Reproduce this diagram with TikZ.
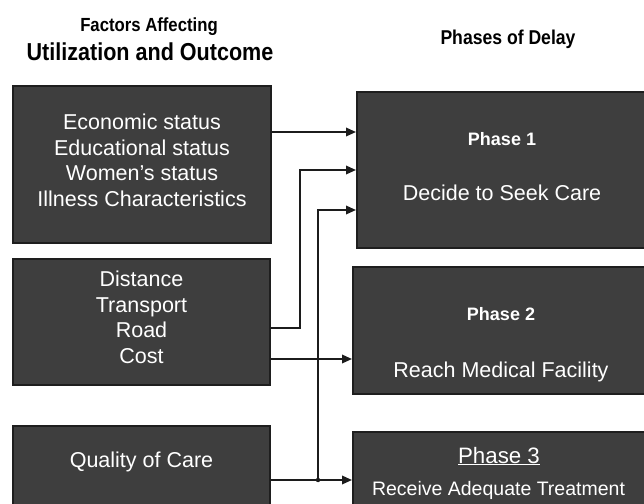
\documentclass[tikz,border=0pt]{standalone}
\usepackage{fontspec}
\setmainfont{Liberation Sans}
\newfontfamily\headfont[FakeStretch=0.88]{Liberation Sans}
\usetikzlibrary{arrows.meta}
\definecolor{boxfill}{HTML}{3E3E3E}
\definecolor{boxline}{HTML}{1E1E1E}
\definecolor{wire}{HTML}{1C1C1C}
\tikzset{
  box/.style={draw=boxline, fill=boxfill, line width=2pt, inner sep=0pt},
  bodytext/.style={text=white, font=\fontsize{21.5}{25.6}\selectfont, align=center, inner sep=0pt},
  phasehead/.style={text=white, font=\fontsize{18}{20}\selectfont\bfseries, inner sep=0pt, anchor=base},
  phasebody/.style={text=white, font=\fontsize{21.5}{24}\selectfont, inner sep=0pt, anchor=base},
  title/.style={text=black, inner sep=0pt, anchor=base},
  arr/.style={draw=wire, line width=1.8pt, -{Triangle[length=10pt,width=8.5pt]}},
  wireline/.style={draw=wire, line width=1.8pt}
}
\begin{document}
\begin{tikzpicture}[x=1pt,y=-1pt]
\useasboundingbox (0,0) rectangle (644,503);
\clip (0,0) rectangle (644,503);
\fill[white] (0,0) rectangle (644,503);

% titles
\node[title, font=\headfont\fontsize{19}{21}\selectfont\bfseries] (t1) at (149,32) {Factors Affecting};
\node[title, font=\headfont\fontsize{24.5}{26}\selectfont\bfseries] (t2) at (150,60) {Utilization and Outcome};
\node[title, font=\headfont\fontsize{20}{22}\selectfont\bfseries] (t3) at (508,45) {Phases of Delay};

% left boxes
\node[box, minimum width=258pt, minimum height=157pt] (b1) at (142,164.5) {};
\node[box, minimum width=257pt, minimum height=126pt] (b2) at (141.5,322) {};
\node[box, minimum width=257pt, minimum height=90pt] (b3) at (141.5,471) {};

% phase boxes
\node[box, minimum width=291pt, minimum height=156pt] (p1) at (502.5,170) {};
\node[box, minimum width=295pt, minimum height=127pt] (p2) at (500.5,330.5) {};
\node[box, minimum width=295pt, minimum height=86pt] (p3) at (500.5,475) {};

% texts in left boxes
\node[bodytext] (b1t) at (142,160.5) {Economic status\\Educational status\\Women's status\\Illness Characteristics};
\node[bodytext] (b2t) at (141.5,317.5) {Distance\\Transport\\Road\\Cost};
\node[bodytext, anchor=base] (b3t) at (141.5,467) {Quality of Care};

% texts in phase boxes
\node[phasehead] (p1h) at (502,145) {Phase 1};
\node[phasebody] (p1b) at (502,200) {Decide to Seek Care};
\node[phasehead] (p2h) at (501,320) {Phase 2};
\node[phasebody] (p2b) at (501,377) {Reach Medical Facility};
\node[phasebody, font=\fontsize{22.3}{24}\selectfont] (p3h) at (499,463) {\underline{Phase 3}};
\node[phasebody, font=\fontsize{19.5}{22}\selectfont] (p3b) at (498.5,495) {Receive Adequate Treatment};

% connectors
\draw[arr] (b1.east |- 0,132) -- (p1.west |- 0,132);
\draw[arr] (b2.east |- 0,328) -- (300,328) -- (300,170) -- (p1.west |- 0,170);
\draw[arr] (b2.east |- 0,359) -- (p2.west |- 0,359);
\draw[arr] (b3.east |- 0,480) -- (p3.west |- 0,480);
\coordinate (j2) at (318,480);
\draw[arr] (j2) -- (318,210) -- (p1.west |- 0,210);
\fill[wire] (j2) circle (2.2pt);
\end{tikzpicture}
\end{document}
